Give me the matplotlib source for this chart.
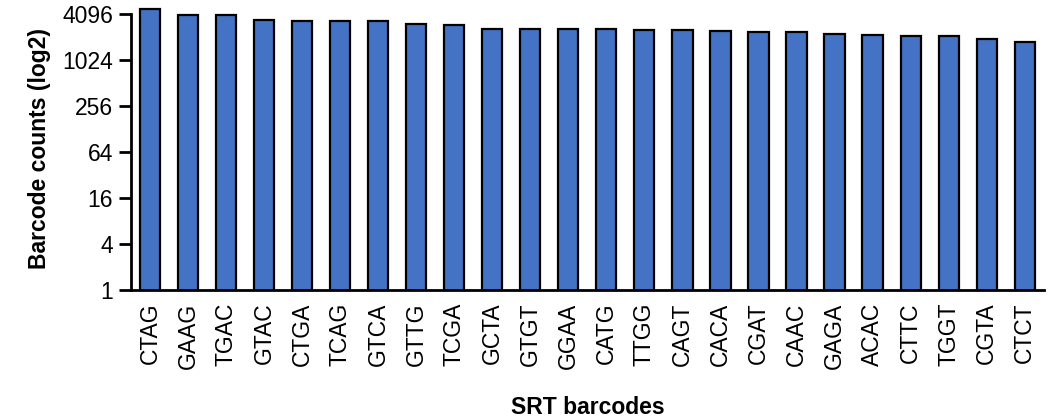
import matplotlib
matplotlib.use("Agg")
import matplotlib.pyplot as plt
from matplotlib.ticker import FixedLocator, NullLocator

barcodes = ["CTAG", "GAAG", "TGAC", "GTAC", "CTGA", "TCAG", "GTCA", "GTTG", "TCGA",
            "GCTA", "GTGT", "GGAA", "CATG", "TTGG", "CAGT", "CACA", "CGAT", "CAAC",
            "GAGA", "ACAC", "CTTC", "TGGT", "CGTA", "CTCT"]
counts = [4700, 3980, 3950, 3390, 3350, 3320, 3300, 3000, 2970,
          2610, 2600, 2590, 2570, 2530, 2530, 2450, 2380, 2360,
          2260, 2150, 2110, 2110, 1910, 1745]
yticks = [1, 4, 16, 64, 256, 1024, 4096]

plt.rcParams['font.family'] = ['Liberation Sans', 'DejaVu Sans']

fig = plt.figure(figsize=(10.5, 4.19), dpi=100)
ax = fig.add_axes([0.1248, 0.308, 0.8692, 0.675])

x = list(range(len(barcodes)))
ax.bar(x, counts, width=0.53, color="#4472C4", edgecolor="black", linewidth=1.6)
ax.set_yscale("log", base=2)
ax.set_ylim(1, 5040)
ax.set_xlim(-0.5, len(barcodes) - 0.5)
ax.yaxis.set_major_locator(FixedLocator(yticks))
ax.yaxis.set_minor_locator(NullLocator())
ax.set_yticklabels([str(t) for t in yticks], fontsize=16.5)
ax.set_xticks(x)
ax.set_xticklabels(barcodes, rotation=90, fontsize=16.5)
ax.tick_params(axis="x", length=0, pad=9)
ax.tick_params(axis="y", length=9, width=2, pad=4)

for s in ["top", "right"]:
    ax.spines[s].set_visible(False)
ax.spines["left"].set_linewidth(2)
ax.spines["bottom"].set_linewidth(2)
ax.spines["left"].set_bounds(1, 4096)

ax.set_ylabel("Barcode counts (log2)", fontsize=16.5, fontweight="bold", labelpad=8)
ax.set_xlabel("SRT barcodes", fontsize=16.5, fontweight="bold", labelpad=20)

fig.savefig("out.png", dpi=100)
